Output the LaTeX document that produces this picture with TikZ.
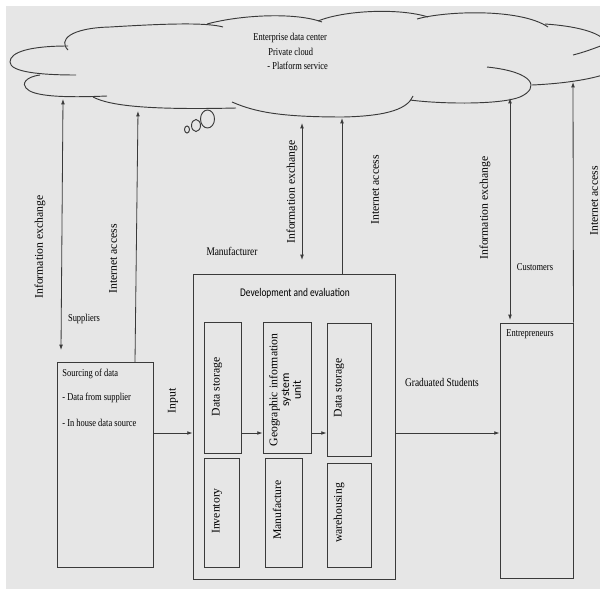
\documentclass[tikz,border=0pt]{standalone}
\usepackage{fontspec}
\setmainfont{Liberation Serif}
\newfontfamily\narrowrm[FakeStretch=0.8]{Liberation Serif}
\newfontfamily\narrowsf[FakeStretch=0.8]{Carlito}
\newfontfamily\plainsf{Carlito}
\usetikzlibrary{arrows.meta,fit}
\definecolor{paper}{HTML}{E6E6E6}
\definecolor{ink}{HTML}{3A3A3A}

\begin{document}
\begin{tikzpicture}[x=0.03cm,y=-0.03cm,
    box/.style={draw=ink,line width=0.8pt,inner sep=0pt},
    cloudline/.style={draw=ink,line width=0.8pt},
    link/.style={draw=ink,line width=0.7pt,-{Latex[length=4.5pt,width=3.2pt]}},
    twoway/.style={draw=ink,line width=0.7pt,{Latex[length=4.5pt,width=3.2pt]}-{Latex[length=4.5pt,width=3.2pt]}},
    lbl/.style={font=\narrowrm\small,inner sep=1pt},
    vlbl/.style={font=\normalsize,rotate=90,inner sep=1pt}]
    \useasboundingbox (0,0) rectangle (600,589);
    \fill [paper] (6,6) rectangle (600,589);

    % cloud
    \begin{scope}
        \clip (6,6) rectangle (600,589);
        \draw [cloudline] (68,50) .. controls (58,40) and (70,28) .. (110,27) .. controls (160,24) and (205,22) .. (223,27);
        \draw [cloudline] (68,46) .. controls (30,46) and (10,52) .. (10,62) .. controls (10,72) and (40,75) .. (76,75);
        \draw [cloudline] (40,75) .. controls (25,77) and (22,84) .. (26,88) .. controls (32,96) and (60,98) .. (107,96);
        \draw [cloudline] (93,97) .. controls (110,106) and (150,110) .. (236,108);
        \draw [cloudline] (232,102) .. controls (255,112) and (280,117) .. (343,117) .. controls (390,116) and (408,108) .. (413,96);
        \draw [cloudline] (410,100) .. controls (440,104) and (500,105) .. (520,97) .. controls (540,88) and (535,72) .. (487,67);
        \draw [cloudline] (532,85) .. controls (555,84) and (585,81) .. (606,74);
        \draw [cloudline] (573,55) .. controls (585,52) and (595,48) .. (606,44);
        \draw [cloudline] (545,24) .. controls (575,26) and (600,32) .. (606,42);
        \draw [cloudline] (417,19) .. controls (445,11) and (520,8) .. (548,27);
        \draw [cloudline] (318,21) .. controls (345,10) and (400,8) .. (428,17);
        \draw [cloudline] (207,24) .. controls (240,15) and (295,12) .. (322,22);
    \end{scope}
    \draw [cloudline] (207.5,119) circle [x radius=7, y radius=9];
    \draw [cloudline] (196,125.5) circle [x radius=4.5, y radius=6];
    \draw [cloudline] (187,129.5) circle [x radius=2.5, y radius=3.5];
    \node [lbl, anchor=west] (cl1) at (252,38) {Enterprise data center};
    \node [lbl, anchor=west] (cl2) at (267,52) {Private cloud};
    \node [lbl, anchor=west] (cl3) at (266,66) {- Platform service};

    % boxes
    \node [box, fit={(57,362) (153,567)}] (src) {};
    \node [box, fit={(193,274) (395,579)}] (man) {};
    \node [box, fit={(500,323) (573,578)}] (ent) {};
    \node [box, fit={(204,322) (241,453)}] (ds1) {};
    \node [box, fit={(263,322) (311,453)}] (gis) {};
    \node [box, fit={(327,323) (371,456)}] (ds2) {};
    \node [box, fit={(204,458) (239,567)}] (inv) {};
    \node [box, fit={(265,458) (302,567)}] (mfg) {};
    \node [box, fit={(327,463) (371,567)}] (wh) {};

    % cloud ends and free ends
    \coordinate (c1) at (63,99);
    \coordinate (c2) at (138,111);
    \coordinate (c3) at (302,123);
    \coordinate (c4) at (342,118);
    \coordinate (c5) at (510,98);
    \coordinate (c6) at (573,82);
    \coordinate (s1) at (61,350);
    \coordinate (s2) at (135,362);
    \coordinate (m1) at (302,260);
    \coordinate (m2) at (342,274);
    \coordinate (e1) at (510,320);
    \coordinate (in1) at (153,433);

    \draw [twoway] (c1) -- (s1);
    \draw [link] (s2) -- (c2);
    \draw [twoway] (c3) -- (m1);
    \draw [link] (m2) -- (c4);
    \draw [twoway] (c5) -- (e1);
    \draw [link] (ent.north east) -- (c6);
    \draw [link] (in1) -- (in1 -| man.west);
    \draw [link] (ds1.east |- in1) -- (gis.west |- in1);
    \draw [link] (gis.east |- in1) -- (ds2.west |- in1);
    \draw [link] (man.east |- in1) -- (ent.west |- in1);

    % labels
    \node [vlbl] (ie1) at (40,247) {Information exchange};
    \node [vlbl] (ia1) at (113,259) {Internet access};
    \node [lbl] (sup) at (84,319) {Suppliers};
    \node [lbl, anchor=west] (src1) at (61,374) {Sourcing of data};
    \node [lbl, anchor=west] (src2) at (61,398) {- Data from supplier};
    \node [lbl, anchor=west] (src3) at (61,423) {- In house data source};
    \node [vlbl] (inp) at (173,401) {Input};
    \node [lbl, font=\narrowrm\normalsize] (manlbl) at (232,251) {Manufacturer};
    \node [vlbl] (ie2) at (292,192) {Information exchange};
    \node [vlbl] (ia2) at (375,190) {Internet access};
    \node [lbl, font=\narrowsf\normalsize] (dev) at (295,293) {Development and evaluation};
    \node [vlbl] (ds1lbl) at (217,387) {Data storage};
    \node [vlbl, align=center, font=\fontsize{10}{10}\selectfont] (gislbl) at (285,390) {Geographic information\\{\plainsf system}\\{\plainsf unit}};
    \node [vlbl] (ds2lbl) at (339,388) {Data storage};
    \node [vlbl] (invlbl) at (217,511) {Inventory};
    \node [vlbl] (mfglbl) at (277,510) {Manufacture};
    \node [vlbl] (whlbl) at (339,513) {warehousing};
    \node [lbl, font=\narrowrm\normalsize] (grad) at (442,382) {Graduated Students};
    \node [lbl, anchor=west] (entlbl) at (505,334) {Entrepreneurs};
    \node [lbl] (cus) at (535,267) {Customers};
    \node [vlbl] (ie3) at (485,208) {Information exchange};
    \node [vlbl] (ia3) at (594,201) {Internet access};
\end{tikzpicture}
\end{document}
